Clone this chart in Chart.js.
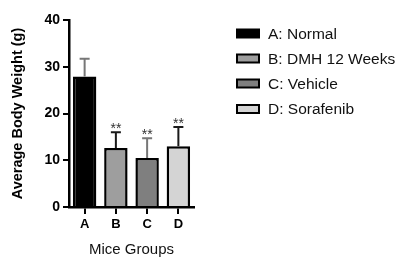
<!DOCTYPE html>
<html>
<head>
<meta charset="utf-8">
<script src="https://cdn.jsdelivr.net/npm/chart.js@4/dist/chart.umd.min.js"></script>
<style>
  html, body { margin: 0; padding: 0; background: #fff; }
  #wrap { position: relative; width: 405px; height: 263px; }
</style>
</head>
<body>
<div id="wrap"><canvas id="c"></canvas></div>
<script>
// ---- data ----
const categories = ['A', 'B', 'C', 'D'];
const legendLabels = ['A: Normal', 'B: DMH 12 Weeks', 'C: Vehicle', 'D: Sorafenib'];
const meanWeight = [27.9, 12.6, 10.5, 13.0];
const sdWeight = [3.8, 3.4, 4.2, 4.1];
const significance = ['', '**', '**', '**'];
const yTicks = [0, 10, 20, 30, 40];

// ---- styles ----
const fillColors = ['#000000', '#9e9e9e', '#7f7f7f', '#d4d4d4'];
const errColors = ['#777777', '#1a1a1a', '#777777', '#1a1a1a'];
const FONT = '"Liberation Sans", Arial, sans-serif';

const errorBarPlugin = {
  id: 'errorBars',
  afterDatasetsDraw(chart) {
    const ctx = chart.ctx;
    const meta = chart.getDatasetMeta(0);
    const ys = chart.scales.y;
    ctx.save();
    meta.data.forEach((bar, i) => {
      const x = bar.x;
      const yTop = ys.getPixelForValue(meanWeight[i] + sdWeight[i]);
      const yBar = bar.y;
      ctx.strokeStyle = errColors[i];
      ctx.lineWidth = 2;
      ctx.beginPath();
      ctx.moveTo(x, yBar);
      ctx.lineTo(x, yTop);
      ctx.moveTo(x - 5, yTop);
      ctx.lineTo(x + 5, yTop);
      ctx.stroke();
      if (significance[i]) {
        ctx.fillStyle = '#333';
        ctx.font = '14px ' + FONT;
        ctx.textAlign = 'center';
        ctx.textBaseline = 'alphabetic';
        ctx.fillText(significance[i], x, yTop + 1);
      }
    });
    ctx.restore();
  }
};

const legendPlugin = {
  id: 'sideLegend',
  afterDraw(chart) {
    const ctx = chart.ctx;
    ctx.save();
    const boxX = 237, boxW = 22, boxH = 8, textX = 268;
    const rowY = [33.5, 58.5, 83.5, 109];
    legendLabels.forEach((lab, i) => {
      const cy = rowY[i];
      ctx.fillStyle = fillColors[i];
      ctx.fillRect(boxX, cy - boxH / 2, boxW, boxH);
      ctx.strokeStyle = '#000';
      ctx.lineWidth = 2;
      ctx.strokeRect(boxX, cy - boxH / 2, boxW, boxH);
      ctx.fillStyle = '#111';
      ctx.font = '15.5px ' + FONT;
      ctx.textAlign = 'left';
      ctx.textBaseline = 'middle';
      ctx.fillText(lab, textX, cy + 1);
    });
    ctx.restore();
  }
};

new Chart(document.getElementById('c'), {
  type: 'bar',
  data: {
    labels: categories,
    datasets: [{
      data: meanWeight,
      backgroundColor: fillColors,
      borderColor: '#000',
      borderWidth: 2.5,
      barPercentage: 0.75,
      categoryPercentage: 1.0
    }]
  },
  options: {
    responsive: true,
    maintainAspectRatio: false,
    animation: false,
    layout: { padding: { top: 20, right: 211, bottom: 0, left: 0 } },
    plugins: {
      legend: { display: false },
      tooltip: { enabled: false }
    },
    scales: {
      x: {
        grid: { display: true, drawOnChartArea: false, drawTicks: true, tickLength: 7, offset: false, color: '#000', lineWidth: 2 },
        border: { display: true, color: '#000', width: 2.5 },
        ticks: { color: '#000', font: { family: FONT, size: 13, weight: 'bold' }, padding: 3 },
        title: { display: true, text: 'Mice Groups', color: '#111', font: { family: FONT, size: 15 }, padding: { top: 5, bottom: 4 } },
        afterFit(scale) { scale.height = 56; }
      },
      y: {
        min: 0, max: 40,
        afterBuildTicks(scale) { scale.ticks = yTicks.map(v => ({ value: v })); },
        grid: { display: true, drawOnChartArea: false, drawTicks: true, tickLength: 6, color: '#000', lineWidth: 2 },
        border: { display: true, color: '#000', width: 2.5 },
        ticks: { color: '#000', font: { family: FONT, size: 14, weight: 'bold' }, padding: 3 },
        title: { display: true, text: 'Average Body Weight (g)', color: '#000', font: { family: FONT, size: 14.5, weight: 'bold' }, padding: { top: 9, bottom: 0 } },
        afterFit(scale) { scale.width = 69; }
      }
    }
  },
  plugins: [errorBarPlugin, legendPlugin]
});
</script>
</body>
</html>
